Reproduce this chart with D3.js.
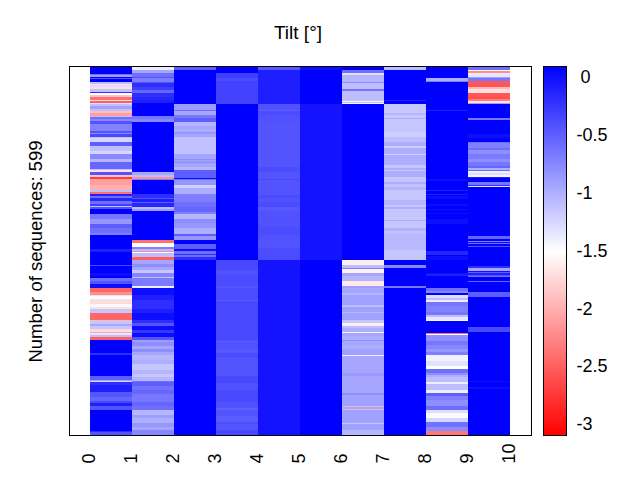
<!DOCTYPE html>
<html>
<head>
<meta charset="utf-8">
<script src="https://d3js.org/d3.v7.min.js"></script>
<style>
  html, body { margin: 0; padding: 0; background: #fff; }
  svg { display: block; }
  text { font-family: "Liberation Sans", sans-serif; fill: #000; }
</style>
</head>
<body>
<svg id="chart" width="640" height="480"></svg>
<script>
// Every column is a list of runs: [last sequence of the run, tilt]
var pos0 = [[11,.09],[13,-.61],[16,-.91],[18,.09],[19,-.44],[24,.09],[27,-1.11],[30,-1.7],[32,-1.3],[36,-1.7],[40,-1.11],[42,-.2],[46,-1.5],[48,-1.9],[53,-2.4],[55,-1.7],[58,-2.5],[60,-1.3],[63,-1.11],[68,-.91],[72,-1.11],[74,-1.9],[79,-2.1],[81,-1.1],[84,-.61],[88,-.76],[92,-.44],[104,-.72],[107,-.44],[109,-.76],[114,-.36],[116,-1.11],[121,-1.25],[129,-.5],[137,-1.11],[141,-1.25],[150,-.76],[154,-1.05],[165,-.55],[167,-1.11],[170,-1.7],[176,-.44],[178,-1.9],[182,-2.7],[192,-2.1],[199,-2],[203,-1.1],[206,-2.4],[210,-.11],[213,-.6],[218,-.15],[222,-.6],[225,-.3],[227,-1.1],[231,-.44],[238,.09],[246,-.65],[255,-.85],[262,-.5],[269,-.6],[272,-.7],[285,.09],[286,-.2],[296,.09],[300,-.11],[316,.09],[317,-.2],[321,.09],[323,-.36],[334,.09],[340,0],[342,.09],[347,-.6],[353,-.44],[358,0],[366,-2.45],[370,-2.2],[372,-1.7],[377,-1.5],[379,-1.35],[385,-1.72],[389,-1.55],[393,-1.7],[399,-1.15],[410,-2.45],[413,-1.95],[417,-1.15],[420,-.95],[426,-1.15],[430,-1.75],[432,-1.1],[435,-1.7],[439,-1.1],[443,-2.5],[465,.09],[467,-.2],[501,.09],[508,-.5],[510,-.95],[511,-1.25],[516,-.2],[527,-.1],[535,-.45],[542,-.55],[546,-.36],[551,-.1],[556,-.44],[591,.09],[592,-.2],[599,-.44]];
var pos1 = [[5,-1.4],[10,-.95],[16,-.6],[18,-.44],[24,-.7],[26,-.44],[32,-.2],[38,-.3],[43,-.55],[48,-.2],[54,-.15],[59,-.1],[79,.09],[84,-.65],[89,-.75],[170,.09],[175,-.95],[178,-1.1],[181,-2.2],[182,-1.1],[184,-.7],[206,.09],[212,-.2],[214,-.44],[219,-.11],[221,-.5],[228,-.15],[230,-1.1],[233,-.9],[281,.09],[286,-2.4],[293,-1.5],[296,-.7],[298,-1.1],[300,-2.2],[302,-1.5],[308,-1.1],[314,-2.5],[319,-.95],[324,-.8],[329,-.95],[335,-1.15],[341,-.75],[343,-1.1],[356,-.68],[359,-1.4],[370,0],[378,-.1],[393,-.2],[399,-.1],[411,0],[416,-.2],[420,-.44],[427,0],[432,-.25],[439,0],[443,-.45],[447,-.9],[453,-.8],[458,-.95],[462,-.8],[467,-.95],[476,-1.05],[482,-1],[492,-1.15],[498,-1.05],[504,-1.15],[509,-1.05],[511,-.6],[518,-.5],[524,-.62],[531,-.55],[543,-.65],[550,-.55],[557,-.6],[565,-1.05],[570,-.9],[578,-1],[584,-.85],[589,-.95],[599,-.75]];
var pos2 = [[5,-.5],[60,.09],[70,-.9],[71,-.6],[78,-.95],[82,-.65],[89,-.5],[95,-1.05],[100,-.95],[105,-1],[109,-.85],[114,-.95],[141,-1.12],[149,-.95],[151,-.8],[154,-.9],[156,-.8],[162,-.95],[163,-.7],[167,-1.05],[180,-.5],[182,0],[184,-.6],[191,-.85],[196,-1.2],[206,-1],[219,-.7],[227,-.6],[235,-.55],[239,-.7],[246,-1.05],[254,-.8],[261,-.85],[271,-1],[275,-.5],[281,-.85],[288,.09],[296,-.5],[298,0],[300,-.6],[301,-.11],[304,-.6],[305,-.2],[308,-.6],[313,-.2],[599,.09]];
var pos3 = [[9,.09],[18,-.3],[23,-.38],[60,-.33],[313,.09],[329,-.36],[338,-.42],[356,-.38],[359,-.44],[378,-.38],[380,-.48],[444,-.36],[447,-.5],[458,-.42],[465,-.46],[470,-.38],[501,-.44],[513,-.36],[524,-.42],[543,-.36],[554,-.42],[557,-.5],[566,-.44],[576,-.48],[579,-.38],[589,-.44],[599,-.36]];
var pos4 = [[5,-.45],[60,-.1],[70,-.42],[71,-.5],[78,-.38],[89,-.42],[162,-.44],[170,-.38],[181,-.44],[184,-.36],[207,-.44],[213,-.38],[219,-.42],[228,-.38],[234,-.46],[259,-.42],[273,-.38],[283,-.42],[294,-.44],[313,-.38],[599,-.03]];
var pos5 = [[5,0],[60,.09],[313,-.03],[599,.09]];
var pos6 = [[5,.09],[9,-.6],[13,-1.3],[24,-1.05],[26,-.8],[36,-1.1],[39,-.65],[55,-1.1],[57,-1.45],[58,-1.1],[60,-1.45],[313,.09],[321,-1.62],[326,-1.1],[328,-.7],[334,-1.6],[340,-.95],[348,-1.05],[355,-1.65],[359,-.9],[367,-.95],[370,-1.05],[386,-.92],[389,-1.1],[397,-.92],[400,-1.05],[411,-.92],[415,-1.15],[421,-1.62],[424,-1.1],[430,-1],[432,-1.6],[437,-.95],[443,-1],[445,-.8],[451,-.95],[457,-1],[467,-.92],[469,-1.4],[497,-.95],[502,-.88],[530,-.95],[532,-.8],[550,-.92],[552,-1.1],[555,-.95],[556,-2],[578,-.92],[580,-1.15],[590,-.92],[599,-1.05]];
var pos7 = [[5,-1.1],[54,.09],[55,-.1],[60,.09],[75,-1.15],[78,-1.05],[83,-1.15],[85,-1],[106,-1.15],[114,-1.2],[121,-1.1],[129,-1],[132,-1.2],[141,-1],[143,-1.2],[159,-1],[164,-1.15],[167,-1],[169,-1.15],[178,-1],[186,-1.15],[190,-1],[194,-1.12],[199,-1.05],[216,-1.15],[224,-1.05],[228,-1.15],[230,-1],[248,-1.15],[250,-1],[261,-1.15],[266,-1.02],[271,-1.12],[297,-1.07],[313,-1.15],[321,.09],[326,-.75],[355,.09],[359,-.65],[599,.09]];
var pos8 = [[18,.09],[23,-1],[24,-.7],[70,.09],[71,-.1],[181,.09],[185,0],[200,.09],[201,-.1],[206,.09],[208,-.1],[210,.09],[215,0],[223,.09],[226,0],[230,.09],[232,0],[237,.09],[238,0],[246,.09],[255,0],[299,.09],[305,-.15],[307,.09],[313,0],[334,.09],[336,0],[340,-.1],[358,.09],[363,-.6],[367,-.75],[370,.09],[375,-1.3],[378,-1.1],[382,-1.4],[388,-.65],[397,-.72],[402,-.65],[406,-1.1],[410,-1.35],[412,-1.45],[431,.09],[433,-2.4],[435,-1.5],[444,-.8],[451,-.65],[457,-.75],[462,-.85],[467,-.7],[478,-1.42],[486,-1.32],[491,-1.5],[497,-.6],[500,-.8],[503,-1],[511,-1.1],[515,-1.4],[524,-1.1],[530,-1.4],[534,-.5],[540,-.7],[550,-.8],[557,-.6],[562,-1.3],[570,-1.48],[576,-1.25],[584,-.62],[591,-.78],[599,-2.35]];
var pos9 = [[5,-.6],[7,-1.6],[9,-2.2],[12,-1.65],[16,-1.35],[18,-.9],[23,-.65],[32,-2.55],[35,-1.95],[42,-1.7],[48,-2.55],[52,-2.6],[55,-2.3],[58,-1.7],[60,-.9],[83,.09],[86,-.65],[109,.09],[115,0],[122,.09],[124,-.6],[131,-.72],[134,-.6],[142,-.8],[150,-.68],[155,-.8],[160,-.65],[164,-.55],[167,-1],[169,-.6],[172,-1.4],[176,-1.3],[178,-1.45],[180,-.11],[187,.09],[191,-.65],[193,-.2],[194,-1.3],[274,.09],[280,-.55],[283,.09],[284,-.7],[286,0],[287,-.6],[291,.09],[292,-.44],[323,.09],[327,-.2],[331,-.95],[333,0],[335,-.5],[338,-.11],[339,-.44],[341,-.6],[347,.09],[349,-.55],[366,.09],[373,-.5],[422,.09],[430,-.36],[509,.09],[511,0],[519,.09],[522,0],[599,.09]];

var columns = [pos0, pos1, pos2, pos3, pos4, pos5, pos6, pos7, pos8, pos9];
var xLabels = [0, 1, 2, 3, 4, 5, 6, 7, 8, 9, 10];
var barTicks = [0, -0.5, -1, -1.5, -2, -2.5, -3];
var tiltMin = -3.095, tiltMax = 0.087, sequences = 599;

var svg = d3.select("#chart");

var xScale = d3.scaleLinear().domain([-0.5, 10.5]).range([69, 531]);
var yScale = d3.scaleLinear().domain([0, sequences]).range([67, 436]);
var barScale = d3.scaleLinear().domain([tiltMax, tiltMin]).range([67, 435]);

// red - white - blue, white sits in the middle of the range
var colorScale = d3.scaleLinear()
    .domain([tiltMin, (tiltMin + tiltMax) / 2, tiltMax])
    .range(["#ff0000", "#ffffff", "#0000ff"]);

// heatmap, one rect per run
var cols = svg.append("g").attr("id", "cells")
    .attr("shape-rendering", "crispEdges")
    .selectAll("g")
    .data(columns)
    .enter()
    .append("g");

cols.selectAll("rect")
    .data(function (runs, i) {
        return runs.map(function (r, j) {
            return { col: i, from: j ? runs[j - 1][0] : 0, to: r[0], tilt: r[1] };
        });
    })
    .enter()
    .append("rect")
    .attr("x", function (d) { return xScale(d.col); })
    .attr("width", function (d) { return xScale(d.col + 1) - xScale(d.col); })
    .attr("y", function (d) { return Math.round(yScale(d.from)); })
    .attr("height", function (d) { return Math.max(1, Math.round(yScale(d.to)) - Math.round(yScale(d.from))); })
    .attr("fill", function (d) { return colorScale(d.tilt); });

// frame
svg.append("rect")
    .attr("x", 69.5).attr("y", 66.5)
    .attr("width", 462).attr("height", 369)
    .attr("fill", "none").attr("stroke", "#000");

// x axis, labels turned up
var xAxis = d3.axisBottom(xScale).tickValues(xLabels).tickSize(0).tickFormat(d3.format("d"));
var xLine = svg.append("g").attr("transform", "translate(0,435)").call(xAxis);
xLine.select(".domain").remove();
xLine.selectAll("text")
    .attr("transform", function (d) { return "translate(-2,28.5) rotate(-90)"; })
    .attr("x", 0).attr("y", 0).attr("dy", ".35em")
    .style("text-anchor", "start")
    .style("font-size", "18px")
    .style("font-family", "'Liberation Sans', sans-serif");

// colour bar
var grad = svg.append("defs").append("linearGradient")
    .attr("id", "ramp").attr("x1", 0).attr("y1", 0).attr("x2", 0).attr("y2", 1);
grad.selectAll("stop")
    .data([0, 0.5, 1])
    .enter()
    .append("stop")
    .attr("offset", function (d) { return d; })
    .attr("stop-color", function (d) { return colorScale(tiltMax + d * (tiltMin - tiltMax)); });

svg.append("rect")
    .attr("x", 543.5).attr("y", 66.5)
    .attr("width", 23).attr("height", 369)
    .attr("fill", "url(#ramp)").attr("stroke", "#000");

var barAxis = d3.axisRight(barScale).tickValues(barTicks).tickSize(0).tickFormat(function (d) { return d; });
var barLine = svg.append("g").attr("transform", "translate(576.5,0)").call(barAxis);
barLine.select(".domain").remove();
barLine.selectAll("text")
    .attr("x", function (d) { return d === 0 ? 4 : 0; })
    .style("text-anchor", "start")
    .style("font-size", "18px")
    .style("font-family", "'Liberation Sans', sans-serif");

// titles
svg.append("text")
    .attr("x", 298).attr("y", 39)
    .attr("text-anchor", "middle")
    .style("font-size", "19px")
    .text("Tilt [°]");

svg.append("text")
    .attr("transform", "translate(42,251.5) rotate(-90)")
    .attr("text-anchor", "middle")
    .style("font-size", "18.5px")
    .text("Number of sequences: 599");
</script>
</body>
</html>
